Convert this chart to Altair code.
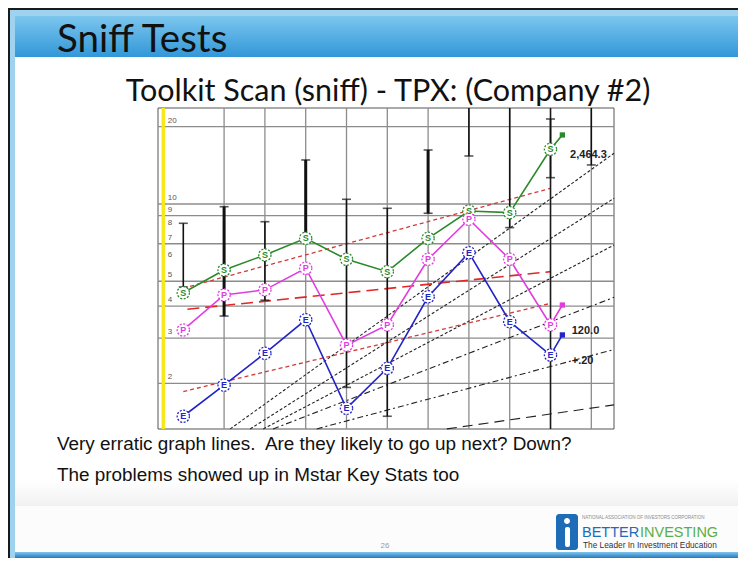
import altair as alt
import pandas as pd

# ---------------- data ----------------
year_idx = [0, 1, 2, 3, 4, 5, 6, 7, 8, 9]
sales = [4.51, 5.53, 6.33, 7.35, 6.09, 5.45, 7.35, 9.39, 9.25, 16.33]
pretax = [3.23, 4.42, 4.63, 5.62, 2.82, 3.38, 6.09, 8.72, 6.09, 3.38]
eps = [1.49, 1.97, 2.62, 3.54, 1.60, 2.29, 4.35, 6.46, 3.48, 2.58]
proj_idx = 9.29
proj_sales, proj_pretax, proj_eps = 18.57, 4.04, 3.09

bar_idx = [0, 1, 2, 3, 4, 5, 6, 7, 8, 9, 10]
price_hi = [8.41, 9.76, 8.53, 14.84, 10.43, 9.62, 16.23, 30.0, 30.0, 21.43, 30.0]
price_lo = [4.75, 3.66, 4.22, 7.46, 1.93, 1.49, 9.20, 15.38, 8.09, 12.66, 14.19]
bar_heavy = [False, True, False, True, False, False, True, False, False, False, False]

trend_x0 = [0.0, 0.1, 0.0]
trend_v0 = [4.70, 3.89, 1.86]
trend_x1 = [9.0, 9.0, 9.0]
trend_v1 = [11.51, 5.45, 4.10]
trend_kind = ["short", "long", "short"]

guide_x0 = [1.15, 1.64, 1.96, 2.20, 3.27, 6.46]
guide_v0 = [1.33, 1.33, 1.33, 1.33, 1.33, 1.33]
guide_x1 = [10.556, 10.556, 10.556, 10.556, 10.556, 10.556]
guide_v1 = [15.76, 10.52, 6.92, 4.33, 2.71, 1.65]
guide_kind = ["dot", "dot", "dot", "dashdot", "dashdot", "dash"]

grid_y = [20, 10, 9, 7, 5, 4, 3, 2]
label_y = [20, 10, 9, 8, 7, 6, 5, 4, 3, 2]
grid_x = [1, 2, 3, 4, 5, 6, 7, 8, 9, 10]
current_idx = 9

note_text = ["2,464.3", "120.0", "+.20"]
note_x = [9.48, 9.52, 9.52]
note_v = [15.5, 3.21, 2.45]

# ---------------- geometry ----------------
W, H = 456, 321
OX, OY = 158, 108  # page position of the plot area
xs = alt.Scale(domain=[-0.62, 10.556], nice=False, zero=False)
ys = alt.Scale(type="log", domain=[1.329, 23.65], nice=False)

series_dom = ["S", "P", "E"]
series_col = ["#2a8a2a", "#e03ce0", "#2323c8"]
cs = alt.Scale(domain=series_dom, range=series_col)

X = lambda f: alt.X(f + ":Q", scale=xs, axis=None)
Y = lambda f: alt.Y(f + ":Q", scale=ys, axis=None)

one = pd.DataFrame({"k": [0]})


def rect(x0, y0, x1, y1, **kw):
    return alt.Chart(one).mark_rect(**kw).encode(
        x=alt.value(x0 - OX), x2=alt.value(x1 - OX),
        y=alt.value(y0 - OY), y2=alt.value(y1 - OY))


def text(s, x, y, **kw):
    return alt.Chart(one).mark_text(baseline="alphabetic", **kw).encode(
        x=alt.value(x - OX), y=alt.value(y - OY), text=alt.value(s))


def vgrad(c0, c1):
    return alt.LinearGradient(gradient="linear", x1=0, x2=0, y1=0, y2=1,
                              stops=[alt.GradientStop(color=c0, offset=0),
                                     alt.GradientStop(color=c1, offset=1)])


NB = "\u00a0"
RIGHT, BOTTOM = 738, 558  # page extent that fits the window

# ---------------- slide decoration ----------------
deco = [
    rect(8, 8, RIGHT, BOTTOM, color="#1a1a1a"),
    rect(10, 10, RIGHT, BOTTOM, color="#9ed3f0"),
    rect(15, 16, RIGHT, 57, color=vgrad("#7cc6ee", "#3297d8")),
    rect(15, 57, RIGHT, 552, color="#ffffff"),
    rect(15, 480, RIGHT, 506, color=vgrad("#ffffff", "#f1f1f1")),
    rect(15, 506, RIGHT, 552, color="#fcfcfc"),
    rect(15, 552, RIGHT, BOTTOM, color=vgrad("#7cc6ee", "#2878bd")),
    text("Sniff Tests", 57, 52, font="Lato", fontSize=38.5, color="#111111", align="left"),
    text("Toolkit Scan (sniff) - TPX: (Company #2)", 388, 101, font="Lato", fontSize=30.5,
         color="#111111", align="center"),
    text(NB + "Very erratic graph lines." + NB + " Are they likely to go up next? Down?", 57, 450,
         font="Liberation Sans", fontSize=18.9, color="#111111", align="left"),
    text("The problems showed up in Mstar Key Stats too", 57, 481,
         font="Liberation Sans", fontSize=18.9, color="#111111", align="left"),
    text("26", 385, 548, font="Liberation Sans", fontSize=8, color="#9a9a9a", align="center"),
    # logo
    rect(556, 514, 578, 550, color="#1e6cb8", cornerRadius=3),
    rect(565, 527, 570, 547, color="#ffffff", cornerRadius=2),
    rect(564, 518, 570, 524, color="#ffffff", cornerRadius=3),
    text("NATIONAL ASSOCIATION OF INVESTORS CORPORATION", 582, 519, font="Liberation Sans",
         fontSize=4.5, color="#8a8a8a", align="left"),
    text("BETTER", 582, 537, font="Liberation Sans", fontSize=14.5, color="#1e6cb8", align="left"),
    text("INVESTING", 640, 537, font="Liberation Sans", fontSize=14.5, color="#5aae46", align="left"),
    text("The Leader In Investment Education", 583, 548, font="Liberation Sans", fontSize=8.3,
         color="#333333", align="left"),
    # chart image frame
    rect(OX, OY, OX + W, OY + H, color="#ffffff", stroke="#555555", strokeWidth=1),
]

# ---------------- chart data frames ----------------
gx = pd.DataFrame({"x": grid_x})
gy = pd.DataFrame({"v": grid_y})
lab = pd.DataFrame({"v": label_y, "t": [str(v) for v in label_y], "x": [-0.38] * len(label_y)})
bars = pd.DataFrame({"x": bar_idx, "lo": price_lo, "hi": price_hi, "heavy": bar_heavy})

rows = []
for name, vals, pv in [("S", sales, proj_sales), ("P", pretax, proj_pretax), ("E", eps, proj_eps)]:
    for i, v in zip(year_idx, vals):
        rows.append({"series": name, "x": i, "v": v, "o": i})
    rows.append({"series": name, "x": proj_idx, "v": pv, "o": 99})
ser = pd.DataFrame(rows)
pts = ser[ser.o != 99]
proj = ser[ser.o == 99]

tr_rows = []
for k in range(len(trend_x0)):
    tr_rows.append({"id": k, "kind": trend_kind[k], "x": trend_x0[k], "v": trend_v0[k]})
    tr_rows.append({"id": k, "kind": trend_kind[k], "x": trend_x1[k], "v": trend_v1[k]})
tr = pd.DataFrame(tr_rows)

gd_rows = []
for k in range(len(guide_x0)):
    gd_rows.append({"id": k, "kind": guide_kind[k], "x": guide_x0[k], "v": guide_v0[k]})
    gd_rows.append({"id": k, "kind": guide_kind[k], "x": guide_x1[k], "v": guide_v1[k]})
gd = pd.DataFrame(gd_rows)

notes = pd.DataFrame({"t": note_text, "x": note_x, "v": note_v})

# ---------------- chart layers ----------------
layers = []
layers.append(alt.Chart(gx).mark_rule(color="#8c8c8c", strokeWidth=1.3).encode(x=X("x")))
layers.append(alt.Chart(gy).mark_rule(color="#8c8c8c", strokeWidth=1.3).encode(y=Y("v")))
layers.append(alt.Chart(pd.DataFrame({"x": [-0.49]})).mark_rule(color="#f7e81a", strokeWidth=3.5)
              .encode(x=X("x")))
layers.append(alt.Chart(lab).mark_text(font="Liberation Sans", fontSize=8, color="#555555",
                                       align="left", dy=-6).encode(x=X("x"), y=Y("v"), text="t:N"))

dash_map = {"dot": [3, 2], "dashdot": [6, 3, 2, 3], "dash": [10, 6]}
for kind, dash in dash_map.items():
    layers.append(alt.Chart(gd[gd.kind == kind]).mark_line(color="#222222", strokeWidth=1.1,
                                                           strokeDash=dash)
                  .encode(x=X("x"), y=Y("v"), detail="id:N"))

layers.append(alt.Chart(tr[tr.kind == "short"]).mark_line(color="#d23a3a", strokeWidth=1.3,
                                                          strokeDash=[4, 3])
              .encode(x=X("x"), y=Y("v"), detail="id:N"))
layers.append(alt.Chart(tr[tr.kind == "long"]).mark_line(color="#e02828", strokeWidth=1.6,
                                                         strokeDash=[12, 6])
              .encode(x=X("x"), y=Y("v"), detail="id:N"))

layers.append(alt.Chart(pd.DataFrame({"x": [current_idx]})).mark_rule(color="#1a1a1a",
                                                                      strokeWidth=1.5)
              .encode(x=X("x")))
layers.append(alt.Chart(bars).mark_rule(color="#111111", clip=True).encode(
    x=X("x"), y=Y("lo"), y2="hi:Q",
    strokeWidth=alt.condition("datum.heavy", alt.value(3), alt.value(1.6))))
layers.append(alt.Chart(bars).mark_tick(color="#111111", orient="horizontal", size=9,
                                        thickness=1.6, clip=True).encode(x=X("x"), y=Y("hi")))
layers.append(alt.Chart(bars).mark_tick(color="#111111", orient="horizontal", size=9,
                                        thickness=1.6, clip=True).encode(x=X("x"), y=Y("lo")))

layers.append(alt.Chart(ser).mark_line(strokeWidth=1.6).encode(
    x=X("x"), y=Y("v"), order="o:Q",
    color=alt.Color("series:N", scale=cs, legend=None)))
layers.append(alt.Chart(proj).mark_point(shape="square", filled=True, size=28, opacity=1).encode(
    x=X("x"), y=Y("v"), color=alt.Color("series:N", scale=cs, legend=None)))
layers.append(alt.Chart(pts).mark_point(shape="circle", filled=True, fill="white", size=150,
                                        strokeWidth=1.3, strokeDash=[2, 1.5], opacity=1).encode(
    x=X("x"), y=Y("v"), stroke=alt.Stroke("series:N", scale=cs, legend=None)))
layers.append(alt.Chart(pts).mark_text(font="Liberation Sans", fontSize=9, fontWeight="bold",
                                       baseline="middle").encode(
    x=X("x"), y=Y("v"), text="series:N", color=alt.Color("series:N", scale=cs, legend=None)))
layers.append(alt.Chart(notes).mark_text(font="Liberation Sans", fontSize=11, fontWeight="bold",
                                         color="#222222", align="left").encode(
    x=X("x"), y=Y("v"), text="t:N"))

chart = alt.layer(*deco, *layers).properties(
    width=W, height=H,
    padding={"left": OX - 8, "top": OY - 8, "right": RIGHT - OX - W, "bottom": BOTTOM - OY - H},
    autosize=alt.AutoSizeParams(type="none"),
).configure_view(strokeWidth=0).configure(background="#ffffff")

chart.save("out.html", embed_options={"renderer": "svg", "actions": False})
